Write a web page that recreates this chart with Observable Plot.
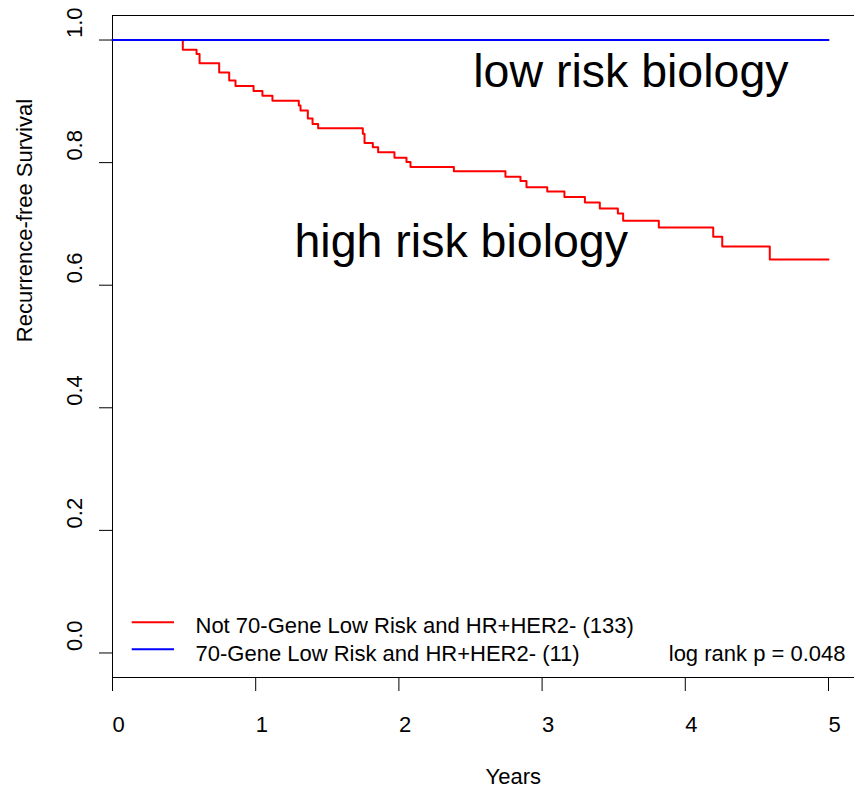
<!DOCTYPE html>
<html>
<head>
<meta charset="utf-8">
<script src="https://cdn.jsdelivr.net/npm/d3@7"></script>
<script src="https://cdn.jsdelivr.net/npm/@observablehq/plot@0.6"></script>
<style>
  html, body { margin: 0; padding: 0; background: #fff; }
  #chart { width: 854px; height: 788px; overflow: hidden; }
</style>
</head>
<body>
<div id="chart"></div>
<script>
// ---- data ----
const highTimes = [0.491, 0.587, 0.608, 0.745, 0.815, 0.859, 0.985, 1.047, 1.117, 1.301, 1.313, 1.364, 1.397, 1.436,
                   1.748, 1.760, 1.818, 1.855, 1.969, 2.053, 2.081, 2.384, 2.744, 2.849, 2.891, 3.036, 3.156, 3.299,
                   3.403, 3.529, 3.566, 3.815, 4.195, 4.258, 4.590];
const highSurv  = [0.984, 0.977, 0.962, 0.947, 0.934, 0.925, 0.917, 0.909, 0.901, 0.893, 0.885, 0.872, 0.863, 0.856,
                   0.847, 0.832, 0.825, 0.817, 0.808, 0.801, 0.793, 0.786, 0.777, 0.770, 0.760, 0.753, 0.744, 0.735,
                   0.725, 0.717, 0.705, 0.694, 0.679, 0.663, 0.642];
const followUpEnd = 5;
const lowTimes = [0, 5];
const lowSurv  = [1, 1];
const seriesNames  = ["Not 70-Gene Low Risk and HR+HER2- (133)", "70-Gene Low Risk and HR+HER2- (11)"];
const seriesColors = ["#ff0000", "#0000ff"];
const xTicks = [0, 1, 2, 3, 4, 5];
const yTicks = [0, 0.2, 0.4, 0.6, 0.8, 1.0];
const annotations = [
  {label: "low risk biology",  x: 2.519, y: 0.923},
  {label: "high risk biology", x: 1.271, y: 0.6457}
];
const pValueText = "log rank p = 0.048";
const xTitle = "Years";
const yTitle = "Recurrence-free Survival";
const xDomain = [0, 5.1816];
const yDomain = [-0.04, 1.04];

// ---- build series ----
const high = [{t: 0, s: 1}]
  .concat(highTimes.map((t, i) => ({t, s: highSurv[i]})))
  .concat([{t: followUpEnd, s: highSurv[highSurv.length - 1]}]);
const low = lowTimes.map((t, i) => ({t, s: lowSurv[i]}));

const chart = Plot.plot({
  width: 854,
  height: 788,
  marginLeft: 112,
  marginRight: 0,
  marginTop: 15,
  marginBottom: 111,
  x: {domain: xDomain, axis: null},
  y: {domain: yDomain, axis: null},
  style: {fontFamily: "'Liberation Sans', Arial, sans-serif", fontSize: "22px", background: "#fff", color: "#000", overflow: "hidden"},
  marks: [
    // box: left, top, bottom
    Plot.ruleX([xDomain[0]], {stroke: "#000", strokeWidth: 1}),
    Plot.ruleY(yDomain, {stroke: "#000", strokeWidth: 1}),
    // ticks
    Plot.axisX(xTicks, {anchor: "bottom", tickSize: 14, tickFormat: () => "", label: null, stroke: "#000"}),
    Plot.axisY(yTicks, {anchor: "left", tickSize: 13, tickFormat: () => "", label: null, stroke: "#000"}),
    // tick labels
    Plot.text(xTicks, {x: d => d, text: d => String(d), frameAnchor: "bottom", dy: 54,
      textAnchor: "start", lineAnchor: "bottom", fontSize: 22, fill: "#000"}),
    Plot.text(yTicks, {y: d => d, text: d => d.toFixed(1), frameAnchor: "left", dx: -31, dy: -2,
      rotate: -90, textAnchor: "start", lineAnchor: "bottom", fontSize: 22, fill: "#000"}),
    // axis titles
    Plot.text([xTitle], {text: d => d, frameAnchor: "bottom-left", dx: 373, dy: 106,
      textAnchor: "start", lineAnchor: "bottom", fontSize: 22, fill: "#000"}),
    Plot.text([yTitle], {text: d => d, frameAnchor: "left", dx: -80.3, dy: -4.3,
      rotate: -90, textAnchor: "start", lineAnchor: "bottom", fontSize: 22, fill: "#000"}),
    // curves
    Plot.line(high, {x: "t", y: "s", curve: "step-after", stroke: seriesColors[0], strokeWidth: 2}),
    Plot.line(low,  {x: "t", y: "s", curve: "step-after", stroke: seriesColors[1], strokeWidth: 2}),
    // annotations
    Plot.text(annotations, {x: "x", y: "y", text: "label", fontSize: 46.5,
      textAnchor: "start", lineAnchor: "bottom", fill: "#000"}),
    // legend labels and p-value
    ...seriesNames.map((name, i) => Plot.text([name], {text: d => d, frameAnchor: "bottom-left",
      dx: 83, dy: i === 0 ? -45 : -17, textAnchor: "start", lineAnchor: "bottom", fontSize: 22, fill: "#000"})),
    Plot.text([pValueText], {text: d => d, frameAnchor: "bottom-right", dx: -9, dy: -16.3,
      textAnchor: "end", lineAnchor: "bottom", fontSize: 22, fill: "#000"})
  ]
});

// legend swatches
const g = d3.select(chart).append("g").attr("transform", "translate(112,677)");
g.selectAll("line").data(seriesColors).join("line")
  .attr("x1", 19.7).attr("x2", 62)
  .attr("y1", (d, i) => i === 0 ? -54.7 : -27.7)
  .attr("y2", (d, i) => i === 0 ? -54.7 : -27.7)
  .attr("stroke", d => d).attr("stroke-width", 2);

document.getElementById("chart").appendChild(chart);
</script>
</body>
</html>
